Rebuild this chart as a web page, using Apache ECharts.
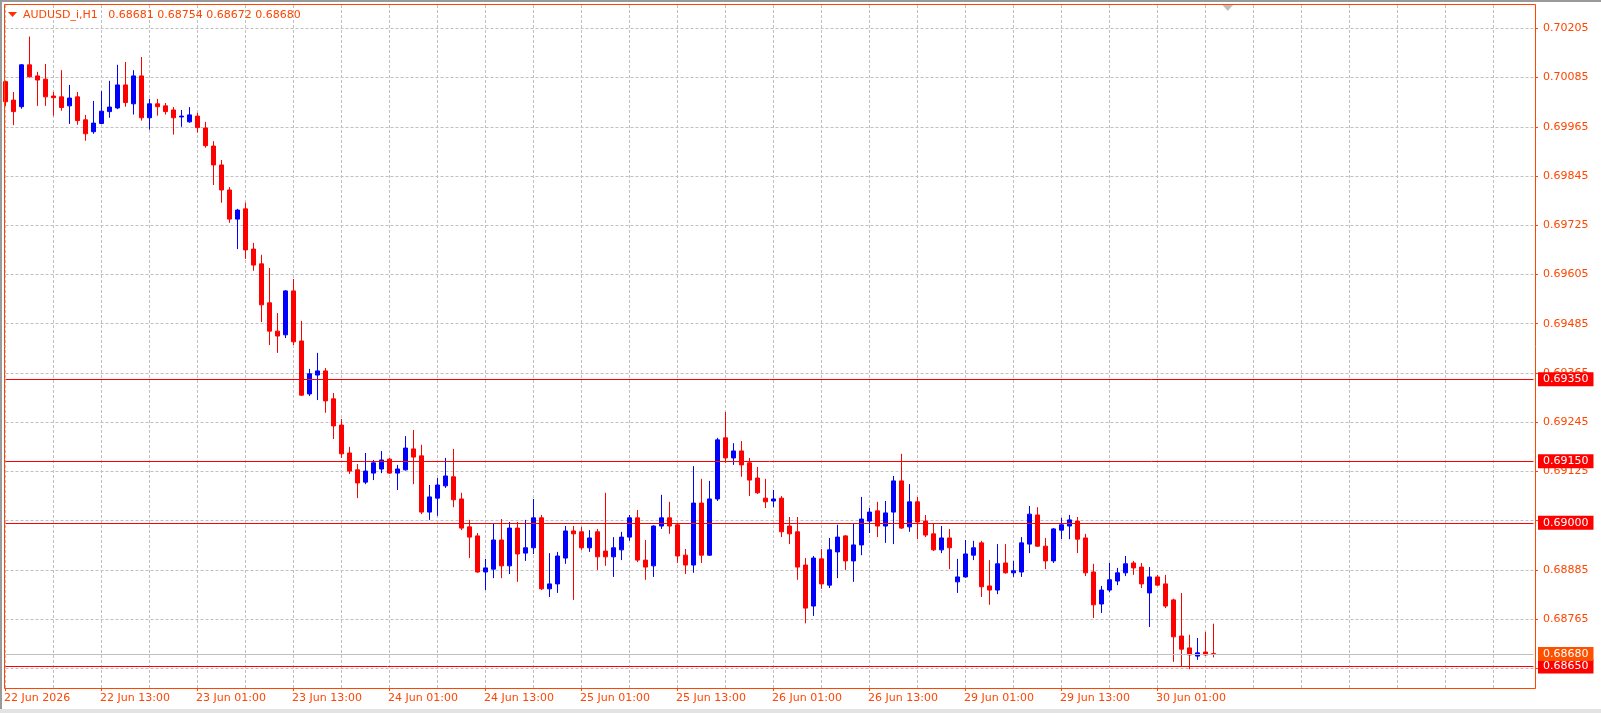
<!DOCTYPE html>
<html>
<head>
<meta charset="utf-8">
<script src="https://cdn.jsdelivr.net/npm/echarts@6/dist/echarts.min.js"></script>
<style>
html,body{margin:0;padding:0;background:#fff;}
#chart{width:1601px;height:713px;}
</style>
</head>
<body>
<div id="chart"></div>
<script>
// ---------------- data ----------------
const symbol = 'AUDUSD_i,H1';
const days = ['22 Jun','23 Jun','24 Jun','25 Jun','26 Jun','29 Jun','30 Jun'];
const xTickLabels = ['22 Jun 2026','22 Jun 13:00','23 Jun 01:00','23 Jun 13:00','24 Jun 01:00','24 Jun 13:00',
  '25 Jun 01:00','25 Jun 13:00','26 Jun 01:00','26 Jun 13:00','29 Jun 01:00','29 Jun 13:00','30 Jun 01:00'];
const yTickValues = [0.68645,0.68765,0.68885,0.69005,0.69125,0.69245,0.69365,0.69485,0.69605,0.69725,0.69845,0.69965,0.70085,0.70205];
const levelLines = [0.69350, 0.69150, 0.69000, 0.68650];
const bidLine = 0.68680;

const open = [
0.70075,0.70030,0.70014,0.70116,0.70089,0.70081,0.70040,0.70038,0.70016,0.70038,
0.69982,0.69953,0.69973,0.70002,0.70011,0.70067,0.70021,0.70089,0.69987,0.70021,
0.70016,0.70006,0.69989,0.69977,0.69991,0.69962,0.69918,0.69872,0.69811,0.69740,
0.69765,0.69667,0.69631,0.69536,0.69467,0.69458,0.69565,0.69443,0.69314,0.69360,
0.69370,0.69302,0.69238,0.69170,0.69129,0.69099,0.69121,0.69131,0.69155,0.69121,
0.69129,0.69180,0.69163,0.69026,0.69060,0.69090,0.69112,0.69058,0.68990,0.68968,
0.68880,0.68887,0.68958,0.68895,0.68987,0.68926,0.68939,0.69012,0.68839,0.68851,
0.68914,0.68980,0.68978,0.68939,0.68978,0.68931,0.68917,0.68934,0.68965,0.69012,
0.68909,0.68895,0.68992,0.69012,0.68995,0.68921,0.68897,0.69048,0.68921,0.69058,
0.69207,0.69158,0.69175,0.69146,0.69109,0.69060,0.69053,0.69060,0.68992,0.68978,
0.68897,0.68797,0.68912,0.68848,0.68929,0.68968,0.68907,0.68946,0.69004,0.69029,
0.68992,0.69026,0.69102,0.68990,0.69051,0.69004,0.68973,0.68934,0.68963,0.68856,
0.68868,0.68921,0.68951,0.68846,0.68836,0.68902,0.68878,0.68880,0.68948,0.69019,
0.68943,0.68907,0.68982,0.68992,0.69004,0.68963,0.68880,0.68802,0.68836,0.68858,
0.68878,0.68902,0.68892,0.68829,0.68868,0.68851,0.68812,0.68724,0.68695,0.68675,
0.68685,0.68681];
const high = [
0.70077,0.70050,0.70118,0.70185,0.70099,0.70118,0.70050,0.70103,0.70067,0.70050,
0.69994,0.70028,0.70052,0.70077,0.70116,0.70123,0.70103,0.70135,0.70033,0.70033,
0.70023,0.70013,0.70006,0.70013,0.69999,0.69977,0.69930,0.69884,0.69818,0.69765,
0.69780,0.69682,0.69653,0.69621,0.69511,0.69567,0.69594,0.69492,0.69375,0.69414,
0.69377,0.69316,0.69253,0.69185,0.69143,0.69170,0.69153,0.69175,0.69158,0.69141,
0.69211,0.69226,0.69190,0.69092,0.69109,0.69158,0.69180,0.69073,0.69007,0.68975,
0.68912,0.68999,0.69009,0.69002,0.69002,0.69007,0.69058,0.69019,0.68926,0.68929,
0.68992,0.68992,0.68990,0.68982,0.68985,0.69073,0.68965,0.68978,0.69019,0.69031,
0.68958,0.68994,0.69068,0.69051,0.68999,0.68936,0.69138,0.69107,0.69102,0.69207,
0.69270,0.69194,0.69199,0.69158,0.69136,0.69107,0.69080,0.69065,0.69014,0.69014,
0.68914,0.68919,0.68936,0.68963,0.68995,0.68970,0.68999,0.69063,0.69036,0.69051,
0.69053,0.69114,0.69168,0.69094,0.69063,0.69019,0.68999,0.68992,0.68985,0.68912,
0.68958,0.68956,0.68956,0.68909,0.68948,0.68948,0.68907,0.68965,0.69041,0.69038,
0.68963,0.68987,0.69012,0.69019,0.69014,0.68973,0.68900,0.68846,0.68902,0.68890,
0.68919,0.68907,0.68902,0.68892,0.68873,0.68873,0.68815,0.68829,0.68727,0.68719,
0.68734,0.68754];
const low = [
0.70016,0.69969,0.70009,0.70085,0.70016,0.70016,0.69992,0.70004,0.69972,0.69970,
0.69931,0.69948,0.69971,0.69987,0.70008,0.70014,0.69995,0.69980,0.69958,0.69992,
0.69995,0.69946,0.69965,0.69975,0.69951,0.69914,0.69823,0.69780,0.69731,0.69667,
0.69643,0.69614,0.69489,0.69433,0.69414,0.69450,0.69433,0.69309,0.69309,0.69299,
0.69268,0.69204,0.69158,0.69119,0.69060,0.69094,0.69104,0.69121,0.69119,0.69080,
0.69127,0.69094,0.69021,0.69007,0.69017,0.69085,0.69038,0.68982,0.68914,0.68878,
0.68836,0.68865,0.68865,0.68875,0.68856,0.68907,0.68924,0.68836,0.68819,0.68829,
0.68900,0.68812,0.68934,0.68929,0.68885,0.68895,0.68868,0.68909,0.68956,0.68904,
0.68861,0.68868,0.68985,0.68973,0.68902,0.68875,0.68878,0.68902,0.68919,0.69053,
0.69146,0.69141,0.69112,0.69065,0.69070,0.69036,0.69038,0.68965,0.68948,0.68861,
0.68755,0.68773,0.68839,0.68841,0.68865,0.68885,0.68856,0.68921,0.68975,0.68965,
0.68951,0.68948,0.68985,0.68978,0.68960,0.68965,0.68931,0.68926,0.68887,0.68829,
0.68866,0.68909,0.68819,0.68800,0.68826,0.68876,0.68868,0.68868,0.68926,0.68941,
0.68887,0.68902,0.68960,0.68960,0.68926,0.68870,0.68768,0.68780,0.68831,0.68848,
0.68870,0.68873,0.68841,0.68746,0.68846,0.68792,0.68661,0.68650,0.68643,0.68666,
0.68676,0.68672];
const close = [
0.70026,0.70002,0.70116,0.70087,0.70079,0.70038,0.70036,0.70012,0.70035,0.69980,
0.69948,0.69974,0.70003,0.70013,0.70067,0.70024,0.70089,0.69987,0.70021,0.70014,
0.70002,0.69987,0.69991,0.69994,0.69963,0.69919,0.69872,0.69811,0.69740,0.69762,
0.69665,0.69628,0.69531,0.69467,0.69455,0.69565,0.69441,0.69311,0.69363,0.69370,
0.69297,0.69236,0.69168,0.69126,0.69097,0.69126,0.69146,0.69153,0.69121,0.69131,
0.69182,0.69160,0.69026,0.69063,0.69092,0.69114,0.69056,0.68987,0.68965,0.68880,
0.68890,0.68958,0.68895,0.68987,0.68924,0.68939,0.69012,0.68839,0.68851,0.68919,
0.68980,0.68973,0.68939,0.68963,0.68917,0.68917,0.68939,0.68965,0.69012,0.68909,
0.68892,0.68992,0.69012,0.68992,0.68919,0.68897,0.69048,0.68921,0.69058,0.69202,
0.69158,0.69175,0.69141,0.69104,0.69073,0.69051,0.69058,0.68978,0.68973,0.68892,
0.68792,0.68914,0.68851,0.68934,0.68965,0.68907,0.68946,0.69009,0.69026,0.68992,
0.69024,0.69102,0.68987,0.69051,0.69002,0.68970,0.68934,0.68963,0.68939,0.68868,
0.68924,0.68939,0.68844,0.68836,0.68900,0.68878,0.68883,0.68951,0.69021,0.68943,
0.68907,0.68985,0.68995,0.69007,0.68960,0.68878,0.68800,0.68836,0.68861,0.68878,
0.68900,0.68890,0.68851,0.68868,0.68848,0.68797,0.68722,0.68692,0.68678,0.68683,
0.68678,0.68680];

// ---------------- build ----------------
const TOTAL_SLOTS = 192;
let categories = [];
days.forEach(d => { for (let h = 0; h < 24; h++) categories.push(d + ' ' + String(h).padStart(2, '0') + ':00'); });
categories = categories.slice(1, 1 + open.length);
while (categories.length < TOTAL_SLOTS) categories.push('');

const candles = open.map((o, i) => [o, close[i], low[i], high[i]]);
const last = open.length - 1;
const headerText = symbol + '   ' + [open[last], high[last], low[last], close[last]].map(v => v.toFixed(5)).join(' ');

const ORANGE = '#FF4500';
const FONT = 'DejaVu Sans';
const labelIdx = (idx) => idx % 12 === 0 && idx / 12 < xTickLabels.length;

const chart = echarts.init(document.getElementById('chart'), null, { renderer: 'canvas' });

const lineItems = levelLines.map(v => ({
  yAxis: v,
  lineStyle: { color: '#FF0000', width: 1, type: 'solid' },
  label: { backgroundColor: '#FF0000' }
}));
lineItems.push({
  yAxis: bidLine,
  lineStyle: { color: '#C0C0C0', width: 1, type: 'solid' },
  label: { backgroundColor: '#FF5000' }
});

chart.setOption({
  animation: false,
  backgroundColor: '#ffffff',
  grid: { left: 5.5, right: 67.5, top: 5, bottom: 25, containLabel: false },
  xAxis: {
    type: 'category',
    data: categories,
    boundaryGap: false,
    axisLine: { show: false },
    axisTick: {
      show: true, length: 3, alignWithLabel: true,
      interval: labelIdx,
      lineStyle: { color: ORANGE }
    },
    axisLabel: {
      show: true,
      interval: labelIdx,
      formatter: (val, idx) => labelIdx(idx) ? xTickLabels[idx / 12] : '',
      color: ORANGE, fontFamily: FONT, fontSize: 11,
      align: 'left', margin: 5, padding: [0, 0, 0, -1.5],
      showMinLabel: true, showMaxLabel: true, hideOverlap: false
    },
    splitLine: {
      show: true,
      interval: (idx) => idx % 6 === 0,
      lineStyle: { color: '#C0C0C0', type: [3, 2], width: 1 }
    }
  },
  yAxis: {
    type: 'value',
    position: 'right',
    offset: 1.5,
    min: 0.685973,
    max: 0.702618,
    scale: true,
    axisLine: { show: false },
    axisTick: { show: true, length: 3, customValues: yTickValues, lineStyle: { color: ORANGE } },
    axisLabel: {
      show: true, customValues: yTickValues,
      formatter: (v) => v.toFixed(5),
      color: ORANGE, fontFamily: FONT, fontSize: 11, margin: 8
    },
    splitLine: { show: true, lineStyle: { color: '#C0C0C0', type: [3, 2], width: 1 } }
  },
  series: [{
    type: 'candlestick',
    data: candles,
    barWidth: 4,
    clip: true,
    itemStyle: {
      color: '#0000FF', color0: '#FF0000',
      borderColor: '#0000FF', borderColor0: '#FF0000', borderColorDoji: '#0000FF',
      borderWidth: 1
    },
    markLine: {
      silent: true,
      precision: 5,
      symbol: ['none', 'none'],
      animation: false,
      label: {
        show: true, position: 'end', distance: 4.5,
        formatter: (p) => Number(p.value).toFixed(5),
        color: '#ffffff', fontFamily: FONT, fontSize: 11,
        padding: [1, 5, 1, 5], lineHeight: 12
      },
      emphasis: { disabled: true },
      data: lineItems
    }
  }],
  graphic: [
    { type: 'rect', shape: { x: 0, y: 0, width: 1601, height: 2 }, style: { fill: '#9A9A9A' }, z: 100, silent: true },
    { type: 'rect', shape: { x: 0, y: 0, width: 2, height: 713 }, style: { fill: '#9A9A9A' }, z: 100, silent: true },
    { type: 'rect', shape: { x: 0, y: 709, width: 1601, height: 4 }, style: { fill: '#E3E3E3' }, z: 100, silent: true },
    { type: 'rect', shape: { x: 4.5, y: 4.5, width: 1531, height: 684 }, style: { fill: 'none', stroke: ORANGE, lineWidth: 1 }, z: 100, silent: true },
    { type: 'polygon', shape: { points: [[8, 12], [17, 12], [12.5, 17]] }, style: { fill: '#FF3000' }, z: 100, silent: true },
    { type: 'text', x: 23, y: 15, style: { text: headerText, fill: ORANGE, font: '11px "DejaVu Sans"', textVerticalAlign: 'middle', verticalAlign: 'middle' }, z: 100, silent: true },
    { type: 'polygon', shape: { points: [[1222.5, 5], [1233, 5], [1227.75, 11]] }, style: { fill: '#BEBEBE' }, z: 100, silent: true }
  ]
});
</script>
</body>
</html>
